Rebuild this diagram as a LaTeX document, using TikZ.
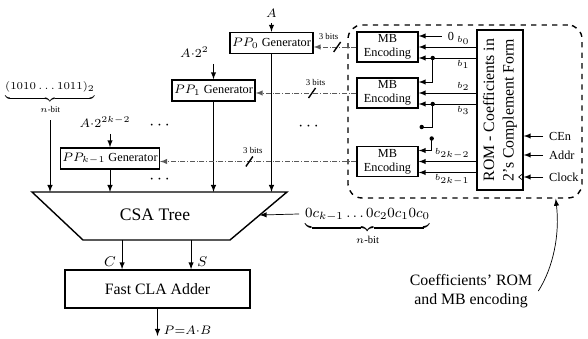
\documentclass[tikz,border=0pt]{standalone}
\usepackage{fontspec}
\setmainfont{Liberation Serif}
\usepackage{amsmath}
\usetikzlibrary{arrows, calc}

\begin{document}
\begin{tikzpicture}[>=latex,
    genbox/.style={draw, thick, font=\scriptsize, minimum height=0.42cm, inner sep=1pt},
    mbbox/.style={draw, thick, font=\scriptsize, align=center, minimum width=1.22cm, minimum height=0.6cm, inner sep=1pt},
    bus/.style={densely dashdotted, gray!70!black, ->},
    bitlbl/.style={font=\tiny, inner sep=1pt},
    dotpt/.style={circle, fill, inner sep=0pt, minimum size=2.5pt}]

    \useasboundingbox (0,0) rectangle (11.76,6.76);

    % --- Generators ---
    \node[genbox, minimum width=1.66cm] (pp0) at (5.43,5.9) {$PP_0$ Generator};
    \node[genbox, minimum width=1.66cm] (pp1) at (4.27,4.95) {$PP_1$ Generator};
    \node[genbox, minimum width=1.88cm] (ppk) at (2.2,3.59) {$PP_{k-1}$ Generator};

    \node[font=\scriptsize] (a0) at (5.43,6.5) {$A$};
    \node[font=\scriptsize, anchor=south east] (a1) at (4.3,5.48) {$A{\cdot}2^2$};
    \node[font=\scriptsize] (ak) at (2.1,4.32) {$A{\cdot}2^{2k-2}$};
    \draw[->] (a0.south) -- (pp0.north);
    \draw[->] (pp1.north |- a1.south) -- (pp1.north);
    \draw[->] (ppk.north |- ak.south) -- (ppk.north);

    \node (dots1) at (3.22,4.24) {$\cdots$};
    \node (dots2) at (3.22,3.16) {$\cdots$};
    \node (dots3) at (6.2,4.22) {$\cdots$};

    % --- CSA tree ---
    \coordinate (csatl) at (0.64,2.92);
    \coordinate (csatr) at (5.74,2.92);
    \coordinate (csabr) at (4.6,1.96);
    \coordinate (csabl) at (1.66,1.96);
    \draw[thick] (csatl) -- (csatr) -- (csabr) -- (csabl) -- cycle;
    \node (csa) at (3.1,2.46) {CSA Tree};

    \node[font=\fontsize{6pt}{7pt}\selectfont] (cst) at (1.0,4.8) {$\underbrace{(1010\ldots1011)_2}_{n\text{-bit}}$};
    \draw[->] (cst.south) -- (cst.south |- csatl);
    \draw[->] (ppk.south) -- (ppk.south |- csatl);
    \draw[->] (pp1.south) -- (pp1.south |- csatl);
    \draw[->] (pp0.south) -- (pp0.south |- csatl);

    \node[font=\footnotesize, anchor=base west] (cc) at (5.98,2.41) {$\underbrace{0c_{k-1}\ldots0c_20c_10c_0}_{n\text{-bit}}$};
    \draw[->] ([yshift=2pt]cc.base west) -- ($(csatr)!0.48!(csabr)$);

    % --- Adder ---
    \node[draw, thick, minimum width=3.7cm, minimum height=0.76cm, font=\small] (cla) at (3.15,0.98) {Fast CLA Adder};
    \coordinate (cin) at ($(cla.north west)!0.31!(cla.north east)$);
    \coordinate (sin) at ($(cla.north west)!0.68!(cla.north east)$);
    \draw[->] (cin |- csabl) -- (cin) node[pos=0.75, left, font=\footnotesize] {$C$};
    \draw[->] (sin |- csabl) -- (sin) node[pos=0.75, right, font=\footnotesize] {$S$};
    \coordinate (pout) at (3.15,0.04);
    \draw[->] (cla.south) -- (pout) node[pos=0.8, right, font=\scriptsize] {$P{=}A{\cdot}B$};

    % --- Coefficients' ROM and MB encoding ---
    \node[draw, thick, dashed, rounded corners=8pt, minimum width=4.68cm, minimum height=3.46cm] (grp) at (9.3,4.53) {};

    \node[mbbox] (mb1) at (7.75,5.82) {MB\\Encoding};
    \node[mbbox] (mb2) at (7.75,4.9) {MB\\Encoding};
    \node[mbbox] (mb3) at (7.75,3.53) {MB\\Encoding};

    \node[draw, thick, minimum width=0.92cm, minimum height=3.2cm] (rom) at (10.0,4.56) {};
    \node[rotate=90, align=center, font=\small] (romtxt) at (rom.center) {ROM - Coefficients in\\2's Complement Form};

    % buses back to the generators
    \draw[bus] (mb1.west) -- (mb1.west -| pp0.east) coordinate[pos=0.45] (bw0);
    \draw[bus] (mb2.west) -- (mb2.west -| pp1.east) coordinate[pos=0.44] (bw1);
    \draw[bus] (mb3.west) -- (mb3.west -| ppk.east) coordinate[pos=0.545] (bwk);
    \foreach \b/\a in {bw0/south east, bw1/south, bwk/south}
        \draw[thick] ([shift={(-0.07,-0.1)}]\b) -- ([shift={(0.07,0.1)}]\b) node[anchor=\a, bitlbl] {3 bits};

    % encoder inputs
    \coordinate (m1a) at ([yshift=0.22cm]mb1.east);
    \coordinate (m1b) at (mb1.east);
    \coordinate (m1c) at ([yshift=-0.22cm]mb1.east);
    \coordinate (m2a) at ([yshift=0.22cm]mb2.east);
    \coordinate (m2b) at (mb2.east);
    \coordinate (m2c) at ([yshift=-0.22cm]mb2.east);
    \coordinate (m3a) at ([yshift=0.22cm]mb3.east);
    \coordinate (m3b) at (mb3.east);
    \coordinate (m3c) at ([yshift=-0.22cm]mb3.east);

    \node[font=\scriptsize, anchor=west] (zero) at ($(m1a)+(0.46,0)$) {0};
    \draw[->] (zero.west) -- (m1a);
    \draw[->] (rom.west |- m1b) -- (m1b) node[pos=0.08, above left, bitlbl] {$b_0$};
    \draw[->] (rom.west |- m1c) -- (m1c) node[pos=0.08, below left, bitlbl] {$b_1$};
    \node[dotpt] (j1) at ($(m1c)+(0.28,0)$) {};
    \draw[->] (j1.center) |- (m2a);

    \draw[->] (rom.west |- m2b) -- (m2b) node[pos=0.08, above left, bitlbl] {$b_2$};
    \draw[->] (rom.west |- m2c) -- (m2c) node[pos=0.08, below left, bitlbl] {$b_3$};
    \node[dotpt] (j2) at ($(m2c)+(0.28,0)$) {};
    \node[dotpt] (j2e) at ($(m2c)+(0.06,-0.46)$) {};
    \draw (j2.center) |- (j2e.center);

    \node[dotpt] (j3) at ($(m3a)+(0.26,0.24)$) {};
    \draw[->] (j3.center) |- (m3a);
    \draw[->] (rom.west |- m3b) -- (m3b) node[pos=0.08, above left, bitlbl] {$b_{2k-2}$};
    \draw[->] (rom.west |- m3c) -- (m3c) node[pos=0.08, below left, bitlbl] {$b_{2k-1}$};

    % ROM control inputs
    \node[font=\scriptsize, anchor=west] (cen) at (10.86,4.04) {CEn};
    \node[font=\scriptsize, anchor=west] (addr) at (10.86,3.66) {Addr};
    \node[font=\scriptsize, anchor=west] (clk) at (10.86,3.22) {Clock};
    \draw[->] (cen.west) -- (cen.west -| rom.east);
    \draw[->] (addr.west) -- (addr.west -| rom.east);
    \draw[->] (clk.west) -- (clk.west -| rom.east);
    \coordinate (clkin) at (rom.east |- clk.west);
    \draw ([yshift=0.08cm]clkin) -- ++(-0.1,-0.08) -- ++(0.1,-0.08);

    \node[font=\small, align=center] (note) at (9.42,0.94) {Coefficients' ROM\\and MB encoding};
    \draw[->] (note.east) .. controls (11.06,1.4) and (11.2,2.06) .. ($(grp.south east)+(-0.54,0)$);
\end{tikzpicture}
\end{document}
